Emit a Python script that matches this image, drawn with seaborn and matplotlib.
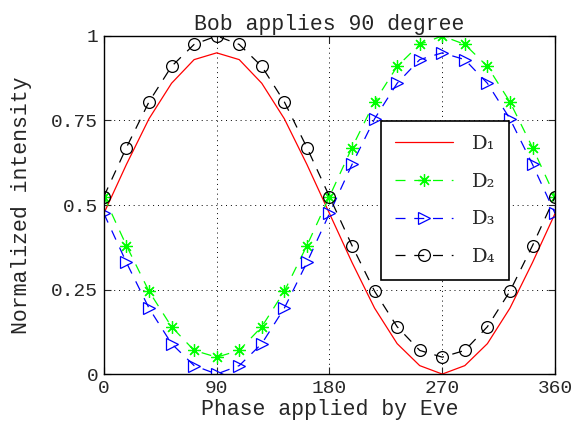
import matplotlib
matplotlib.use("Agg")
import matplotlib.pyplot as plt
import numpy as np
import pandas as pd
import seaborn as sns

# phase of Eve, every 18 degrees
phase = [0, 18, 36, 54, 72, 90, 108, 126, 144, 162, 180,
         198, 216, 234, 252, 270, 288, 306, 324, 342, 360]
d1 = [0.475, 0.62, 0.755, 0.86, 0.93, 0.95, 0.93, 0.86, 0.755, 0.62, 0.475,
      0.33, 0.195, 0.09, 0.025, 0.0, 0.025, 0.09, 0.195, 0.33, 0.475]
d2 = [0.525, 0.38, 0.245, 0.14, 0.07, 0.05, 0.07, 0.14, 0.245, 0.38, 0.525,
      0.67, 0.805, 0.91, 0.975, 1.0, 0.975, 0.91, 0.805, 0.67, 0.525]
d3 = [0.475, 0.33, 0.195, 0.09, 0.025, 0.0, 0.025, 0.09, 0.195, 0.33, 0.475,
      0.62, 0.755, 0.86, 0.93, 0.95, 0.93, 0.86, 0.755, 0.62, 0.475]
d4 = [0.525, 0.67, 0.805, 0.91, 0.975, 1.0, 0.975, 0.91, 0.805, 0.67, 0.525,
      0.38, 0.245, 0.14, 0.07, 0.05, 0.07, 0.14, 0.245, 0.38, 0.525]
labels = ["D\u2081", "D\u2082", "D\u2083", "D\u2084"]

sns.set_style("ticks")
plt.rcParams["font.family"] = ["Liberation Mono", "DejaVu Sans Mono"]
plt.rcParams["xtick.direction"] = "in"
plt.rcParams["ytick.direction"] = "in"

fig = plt.figure(figsize=(5.77, 4.28), dpi=100)
ax = fig.add_axes([0.180, 0.126, 0.782, 0.790])

dash = (8, 7)
sns.lineplot(x=phase, y=d1, ax=ax, color="red", lw=0.9, label=labels[0])
sns.lineplot(x=phase, y=d2, ax=ax, color="#00ff00", lw=0.9, dashes=False,
             linestyle=(0, dash), marker=(8, 2, 0), markersize=9,
             markeredgewidth=0.9, markeredgecolor="#00ff00", label=labels[1])
sns.lineplot(x=phase, y=d3, ax=ax, color="blue", lw=0.9, dashes=False,
             linestyle=(0, dash), marker=">", markersize=8,
             markerfacecolor="none", markeredgewidth=0.9,
             markeredgecolor="blue", label=labels[2])
sns.lineplot(x=phase, y=d4, ax=ax, color="black", lw=0.9, dashes=False,
             linestyle=(0, dash), marker="o", markersize=8.5,
             markerfacecolor="none", markeredgewidth=0.9,
             markeredgecolor="black", label=labels[3])

ax.set_xlim(0, 360)
ax.set_ylim(0, 1)
ax.set_xticks([0, 90, 180, 270, 360])
ax.set_xticklabels(["0", "90", "180", "270", "360"])
ax.set_yticks([0, 0.25, 0.5, 0.75, 1])
ax.set_yticklabels(["0", "0.25", "0.5", "0.75", "1"])
ax.tick_params(labelsize=14, length=5, width=0.8, top=True, right=True, pad=4)
ax.grid(True, color="black", linestyle=(0, (1, 4)), lw=0.7)
for s in ax.spines.values():
    s.set_linewidth(1.0)
    s.set_color("black")

ax.set_title("Bob applies 90 degree", fontsize=15.5, pad=4)
ax.set_xlabel("Phase applied by Eve", fontsize=15.5, labelpad=2)
ax.set_ylabel("Normalized intensity", fontsize=15.5, labelpad=14)

leg = ax.legend(loc="upper left", bbox_to_anchor=(0.614, 0.748),
                borderaxespad=0,
                prop={"family": "DejaVu Serif", "size": 14},
                handlelength=3.0, handletextpad=1.0, labelspacing=1.02,
                borderpad=0.7, fancybox=False, framealpha=1,
                edgecolor="black", numpoints=1)
leg.get_frame().set_linewidth(1.2)

fig.savefig("out.png", dpi=100)
